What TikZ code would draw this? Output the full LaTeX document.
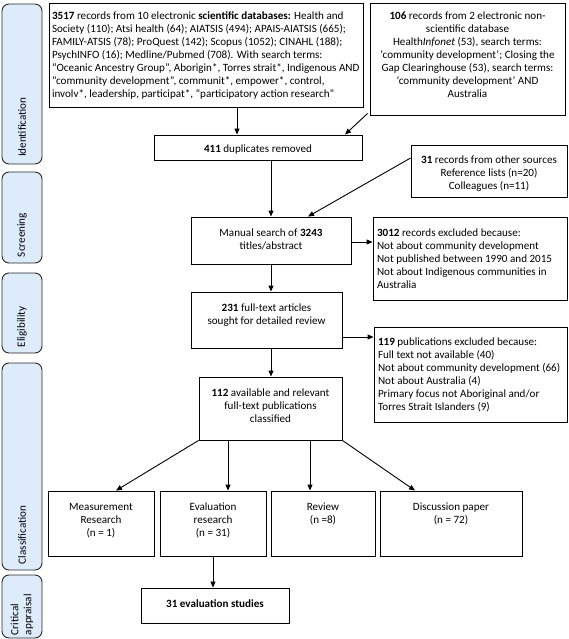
\documentclass[tikz,border=0pt]{standalone}
\usepackage{fontspec}
\setmainfont{Carlito}
\usetikzlibrary{arrows.meta}
\definecolor{labfill}{RGB}{221,235,250}
\definecolor{labline}{RGB}{40,40,40}
\newcommand{\bxc}[4]{\parbox[c][#2][t]{#1}{\vspace*{#3}\centering\begin{tabular}{@{}c@{}}#4\end{tabular}\par}}
\newcommand{\bxl}[5]{\parbox[c][#2][t]{#1}{\vspace*{#3}\raggedright\hspace*{#4}\begin{tabular}{@{}l@{}}#5\end{tabular}\par}}
\tikzset{
  bx/.style={draw=black, line width=0.9pt, inner sep=0pt, fill=white},
  lab/.style={draw=labline, line width=0.9pt, rounded corners=7pt, fill=labfill, inner sep=0pt, rotate=90, minimum height=40pt},
  arr/.style={line width=0.9pt, -{Triangle[length=6pt,width=5pt]}},
  thinarr/.style={line width=0.5pt, -{Triangle[length=6pt,width=5pt]}},
}
\begin{document}
\begin{tikzpicture}[x=1pt,y=-1pt,font=\fontsize{11.1}{13}\selectfont]
\useasboundingbox (0,0) rectangle (568,639);
% stage labels
\node[lab, minimum width=160pt] (l1) at (22,84) {\parbox{146pt}{\raggedright Identification}};
\node[lab, minimum width=91pt] (l2) at (22,217.5) {\parbox{79pt}{\raggedright Screening}};
\node[lab, minimum width=80pt] (l3) at (22,313) {\parbox{68pt}{\raggedright Eligibility}};
\node[lab, minimum width=207pt] (l4) at (22,466.5) {\parbox{195pt}{\raggedright Classification}};
\node[lab, minimum width=63pt] (l5) at (22,606.5) {\parbox{57pt}{\raggedright Critical\\appraisal}};
% boxes
\node[bx] (b1) at (206,55) {\bxl{314pt}{104pt}{7pt}{3pt}{%
\textbf{3517} records from 10 electronic \textbf{scientific databases:} Health and\\
Society (110); Atsi health (64); AIATSIS (494); APAIS-AIATSIS (665);\\
FAMILY-ATSIS (78); ProQuest (142); Scopus (1052); CINAHL (188);\\
PsychINFO (16); Medline/Pubmed (708). With search terms:\\
“Oceanic Ancestry Group”, Aborigin*, Torres strait*, Indigenous AND\\
“community development”, communit*, empower*, control,\\
involv*, leadership, participat*, “participatory action research”}};
\node[bx] (b2) at (467.5,59) {\bxc{195pt}{112pt}{7pt}{%
\textbf{106} records from 2 electronic non-\\
scientific database\\
Health\textit{Infonet} (53), search terms:\\
‘community development’; Closing the\\
Gap Clearinghouse (53), search terms:\\
‘community development’ AND\\
Australia}};
\node[bx] (dup) at (258,147.5) {\bxc{208pt}{25pt}{8pt}{\textbf{411} duplicates removed}};
\node[bx] (oth) at (489,171) {\bxc{156pt}{52pt}{9pt}{%
\textbf{31} records from other sources\\
Reference lists (n=20)\\
Colleagues (n=11)}};
\node[bx] (man) at (271,240.5) {\bxc{160pt}{47pt}{10pt}{%
Manual search of \textbf{3243}\\
titles/abstract}};
\node[bx] (ex1) at (470,258.5) {\bxl{194pt}{83pt}{10.5pt}{4pt}{%
\textbf{3012} records excluded because:\\
Not about community development\\
Not published between 1990 and 2015\\
Not about Indigenous communities in\\
Australia}};
\node[bx] (ft) at (266.5,320) {\bxc{151pt}{56pt}{10pt}{%
\textbf{231} full-text articles\\
sought for detailed review}};
\node[bx] (ex2) at (470.5,374.5) {\bxl{193pt}{95pt}{9pt}{4pt}{%
\textbf{119} publications excluded because:\\
Full text not available (40)\\
Not about community development (66)\\
Not about Australia (4)\\
Primary focus not Aboriginal and/or\\
Torres Strait Islanders (9)}};
\node[bx] (av) at (270.5,408.5) {\bxc{143pt}{63pt}{10.5pt}{%
\textbf{112} available and relevant\\
full-text publications\\
classified}};
\node[bx] (meas) at (101,523.5) {\bxc{106pt}{65pt}{10.5pt}{Measurement\\Research\\(n = 1)}};
\node[bx] (eval) at (213,523.5) {\bxc{106pt}{65pt}{10.5pt}{Evaluation\\research\\(n = 31)}};
\node[bx] (rev) at (323,523.5) {\bxc{104pt}{65pt}{10.5pt}{Review\\(n =8)}};
\node[bx] (disc) at (451,523.5) {\bxc{142pt}{65pt}{10.5pt}{Discussion paper\\(n = 72)}};
\node[bx] (fin) at (215,605.5) {\bxc{148pt}{35pt}{10pt}{\textbf{31 evaluation studies}}};
% helper coordinates
\coordinate (xa) at (237,0);
\coordinate (xb) at (345,0);
\coordinate (xc) at (271,0);
\coordinate (xd) at (308,0);
\coordinate (yo) at (0,158);
\coordinate (ye) at (0,242);
\coordinate (yf) at (0,337);
\coordinate (xm) at (116,0);
\coordinate (xv) at (228,0);
\coordinate (xr) at (310,0);
\coordinate (xq) at (415,0);
% connectors
\draw[arr] (b1.south -| xa) -- (dup.north -| xa);
\draw[arr] ([xshift=-2pt,yshift=2pt]b2.south west) -- (dup.north -| xb);
\draw[arr] (dup.south -| xc) -- (man.north -| xc);
\draw[arr] (oth.west |- yo) -- (man.north -| xd);
\draw[arr] (man.east |- ye) -- (ex1.west |- ye);
\draw[arr] (man.south -| xc) -- (ft.north -| xc);
\draw[arr] (ft.east |- yf) -- (ex2.west |- yf);
\draw[arr] (ft.south -| xc) -- (av.north -| xc);
\draw[arr] (av.south west) -- (meas.north -| xm);
\draw[arr] (av.south -| xv) -- (eval.north -| xv);
\draw[arr] (av.south -| xr) -- (rev.north -| xr);
\draw[arr] (av.south east) -- (disc.north -| xq);
\draw[thinarr] (eval.south) -- (eval.south |- fin.north);
\end{tikzpicture}
\end{document}
